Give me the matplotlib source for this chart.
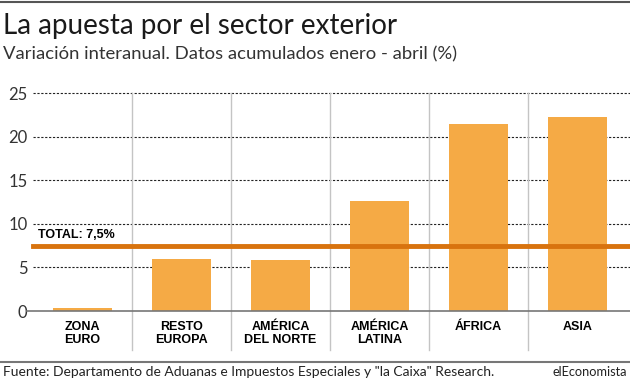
import matplotlib.pyplot as plt
import numpy as np

# data
regiones = ["ZONA\nEURO", "RESTO\nEUROPA", "AMÉRICA\nDEL NORTE", "AMÉRICA\nLATINA", "ÁFRICA", "ASIA"]
variacion = [0.3, 6.0, 5.8, 12.6, 21.4, 22.3]
total = 7.5
yticks = [0, 5, 10, 15, 20, 25]

plt.rcParams['font.family'] = ['Lato', 'DejaVu Sans']
bold_font = ['Liberation Sans', 'DejaVu Sans']

bar_color = "#F5AA45"
total_color = "#D8730E"

fig = plt.figure(figsize=(6.3, 3.81), dpi=100)
ax = fig.add_axes([33 / 630, 1 - 311 / 381, 594 / 630, 218 / 381])

x = np.arange(len(regiones))
ax.bar(x, variacion, width=0.59, color=bar_color, zorder=3)

ax.set_xlim(-0.5, len(regiones) - 0.5)
ax.set_ylim(0, 25)

# dotted gridlines
for v in yticks[1:]:
    ax.axhline(v, color="#222222", lw=0.8, ls=(0, (2, 1.5)), zorder=1,
               xmax=1.01, clip_on=False)
ax.axhline(0, color="#777777", lw=1.2, zorder=4, xmin=-0.01, xmax=1.01, clip_on=False)

# separators between categories
for i in range(1, len(regiones)):
    ax.axvline(i - 0.5, ymin=-0.18, ymax=1.0, color="#c4c4c4", lw=1.0,
               zorder=2, clip_on=False)

# total line
ax.axhline(total, color=total_color, lw=3.5, zorder=5, xmax=1.01, clip_on=False)
ax.text(-0.45, total + 0.55, "TOTAL: 7,5%", fontsize=9, fontweight="bold",
        family=bold_font, color="#000000", va="bottom", ha="left", zorder=6)

ax.set_yticks(yticks)
ax.set_yticklabels([str(v) for v in yticks], fontsize=12, color="#333333")
ax.tick_params(axis="y", length=0, pad=4)
ax.set_xticks(x)
ax.set_xticklabels(regiones, fontsize=9, fontweight="bold", family=bold_font,
                   color="#000000", linespacing=1.15, va="top")
ax.tick_params(axis="x", length=0, pad=7)

for s in ax.spines.values():
    s.set_visible(False)

# header / footer
fig.add_artist(plt.Line2D([0, 1], [1 - 2 / 381, 1 - 2 / 381], color="#555555", lw=1.5))
fig.add_artist(plt.Line2D([0, 1], [1 - 362 / 381, 1 - 362 / 381], color="#777777", lw=1.5))

fig.text(3 / 630, 1 - 34 / 381, "La apuesta por el sector exterior", fontsize=20,
         color="#1a1a1a", va="baseline")
fig.text(3 / 630, 1 - 59 / 381, "Variación interanual. Datos acumulados enero - abril (%)",
         fontsize=13.3, color="#333333", va="baseline")
fig.text(3 / 630, 1 - 376 / 381,
         "Fuente: Departamento de Aduanas e Impuestos Especiales y \"la Caixa\" Research.",
         fontsize=10, color="#222222", va="baseline")
fig.text(627 / 630, 1 - 376 / 381, "elEconomista", fontsize=9.2, color="#222222",
         va="baseline", ha="right")

fig.savefig("out.png", dpi=100)
